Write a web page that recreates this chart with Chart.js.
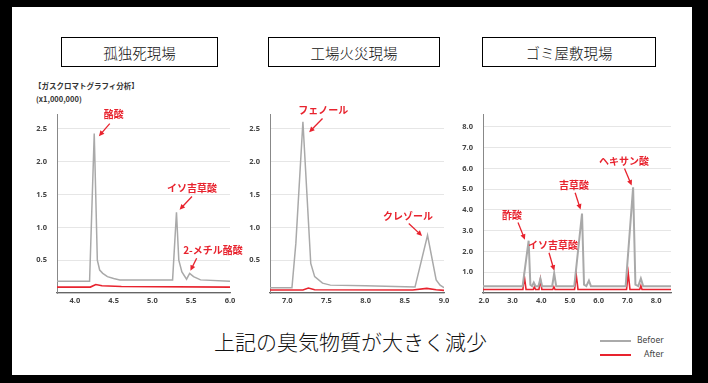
<!DOCTYPE html>
<html>
<head>
<meta charset="utf-8">
<script src="https://cdn.jsdelivr.net/npm/chart.js@4.4.1/dist/chart.umd.min.js"></script>
<style>
  html, body { margin: 0; padding: 0; background: #000; }
  #frame { position: relative; width: 708px; height: 383px; background: #000; overflow: hidden; }
  #sheet { position: absolute; left: 12px; top: 7px; width: 680px; height: 368px; background: #fff; }
  .title {
    position: absolute; top: 37px; height: 28px; border: 1px solid #000;
    font: 300 14.5px "Noto Sans CJK JP", sans-serif; color: #111;
    display: flex; align-items: center; justify-content: center;
  }
  .chart { position: absolute; top: 100px; height: 210px; }
  .note { position: absolute; font: bold 7.5px "Noto Sans CJK JP", sans-serif; color: #333; white-space: nowrap; }
  #caption { position: absolute; left: 214px; top: 326px; font: 300 21px "Noto Sans CJK JP", sans-serif; color: #111; white-space: nowrap; }
  .key { position: absolute; height: 1.5px; width: 31px; left: 600px; }
  .keytext { position: absolute; font: 8.5px "Noto Sans", sans-serif; color: #444; }
</style>
</head>
<body>
<div id="frame">
  <div id="sheet"></div>
  <div class="title" style="left:61px; width:155px;">孤独死現場</div>
  <div class="title" style="left:268px; width:170px;">工場火災現場</div>
  <div class="title" style="left:482px; width:172px;">ゴミ屋敷現場</div>
  <div class="note" style="left:34px; top:80px;">【ガスクロマトグラフィ分析】</div>
  <div class="note" style="left:36px; top:93px;">(x1,000,000)</div>
  <canvas id="lonelyChart" class="chart" style="left:20px; width:225px;"></canvas>
  <canvas id="fireChart" class="chart" style="left:233px; width:226px;"></canvas>
  <canvas id="trashChart" class="chart" style="left:446px; width:240px;"></canvas>
  <div id="caption">上記の臭気物質が大きく減少</div>
  <div class="key" style="top:340px; background:#aaa;"></div>
  <div class="key" style="top:354px; background:#e8232e;"></div>
  <div class="keytext" style="left:637px; top:334px;">Befoer</div>
  <div class="keytext" style="left:644px; top:348px;">After</div>
</div>

<script>
// 孤独死現場
const lonelyBeforeX = [3.77, 4.19, 4.25, 4.29, 4.32, 4.36, 4.42, 4.5, 4.58, 5.0, 5.26, 5.31, 5.34, 5.38, 5.44, 5.48, 5.53, 5.62, 6.0];
const lonelyBeforeY = [0.18, 0.18, 2.43, 0.5, 0.35, 0.3, 0.25, 0.22, 0.2, 0.2, 0.2, 1.23, 0.5, 0.32, 0.21, 0.3, 0.25, 0.2, 0.18];
const lonelyAfterX = [3.77, 4.2, 4.27, 4.35, 4.6, 6.0];
const lonelyAfterY = [0.09, 0.09, 0.13, 0.11, 0.1, 0.09];

// 工場火災現場
const fireBeforeX = [6.78, 7.06, 7.11, 7.2, 7.3, 7.35, 7.45, 7.55, 8.0, 8.63, 8.79, 8.9, 8.95, 9.0];
const fireBeforeY = [0.08, 0.08, 0.76, 2.61, 0.45, 0.25, 0.15, 0.12, 0.11, 0.09, 0.88, 0.2, 0.12, 0.08];
const fireAfterX = [6.78, 7.2, 7.27, 7.35, 8.6, 8.78, 8.9, 9.0];
const fireAfterY = [0.045, 0.045, 0.075, 0.05, 0.045, 0.07, 0.05, 0.04];

// ゴミ屋敷現場
const trashBeforeX = [1.97, 3.35, 3.56, 3.62, 3.68, 3.74, 3.8, 3.9, 3.97, 4.03, 4.38, 4.45, 4.52, 5.15, 5.42, 5.49, 5.57, 5.66, 5.73, 6.94, 7.2, 7.28, 7.38, 7.47, 7.55, 8.52];
const trashBeforeY = [0.33, 0.33, 2.52, 0.4, 0.33, 0.5, 0.33, 0.33, 0.69, 0.33, 0.33, 0.95, 0.33, 0.33, 3.83, 0.4, 0.33, 0.6, 0.33, 0.33, 5.09, 0.4, 0.33, 0.7, 0.33, 0.33];
const trashAfterX = [1.97, 3.36, 3.41, 3.47, 3.72, 3.76, 3.8, 3.92, 3.97, 4.02, 4.4, 4.44, 4.48, 5.16, 5.22, 5.28, 6.97, 7.03, 7.09, 7.43, 7.47, 7.51, 8.52];
const trashAfterY = [0.17, 0.17, 0.8, 0.17, 0.17, 0.3, 0.17, 0.17, 0.65, 0.17, 0.17, 0.3, 0.17, 0.17, 0.85, 0.17, 0.17, 0.95, 0.17, 0.17, 0.35, 0.17, 0.17];

// peak names
const lonelyPeaks = ['酪酸', 'イソ吉草酸', '2-メチル酪酸'];
const firePeaks = ['フェノール', 'クレゾール'];
const trashPeaks = ['酢酸', 'イソ吉草酸', '吉草酸', 'ヘキサン酸'];

// where each peak name sits, in axis units: label x/y, arrow start, arrow end
const lonelyNotePos = [[4.5, 2.72, 4.45, 2.58, 4.31, 2.39], [5.51, 1.59, 5.51, 1.47, 5.35, 1.27], [5.78, 0.65, 5.57, 0.53, 5.49, 0.34]];
const fireNotePos = [[7.46, 2.79, 7.45, 2.66, 7.28, 2.45], [8.54, 1.17, 8.55, 1.06, 8.72, 0.87]];
const trashNotePos = [[2.98, 3.74, 3.19, 3.4, 3.43, 2.57], [4.41, 2.28, 4.27, 1.94, 4.45, 1.08], [5.14, 5.18, 5.18, 4.83, 5.37, 4.02], [6.88, 6.37, 6.9, 6.0, 7.15, 5.18]];

const BEFORE = '#a9a9a9';
const AFTER = '#e8232e';

function toPoints(xs, ys) {
    return xs.map((x, i) => ({ x: x, y: ys[i] }));
}

// draws red peak names with arrows
const peakNotes = {
    id: 'peakNotes',
    afterDatasetsDraw(chart, args, opts) {
        const ctx = chart.ctx;
        const sx = chart.scales.x, sy = chart.scales.y;
        ctx.save();
        ctx.fillStyle = AFTER;
        ctx.strokeStyle = AFTER;
        ctx.lineWidth = 1.3;
        ctx.font = 'bold 10px "Noto Sans CJK JP", sans-serif';
        ctx.textAlign = 'center';
        ctx.textBaseline = 'middle';
        opts.names.forEach((name, i) => {
            const p = opts.pos[i];
            ctx.fillText(name, sx.getPixelForValue(p[0]), sy.getPixelForValue(p[1]));
            const x1 = sx.getPixelForValue(p[2]), y1 = sy.getPixelForValue(p[3]);
            const x2 = sx.getPixelForValue(p[4]), y2 = sy.getPixelForValue(p[5]);
            const a = Math.atan2(y2 - y1, x2 - x1);
            ctx.beginPath();
            ctx.moveTo(x1, y1);
            ctx.lineTo(x2 - 3 * Math.cos(a), y2 - 3 * Math.sin(a));
            ctx.stroke();
            ctx.beginPath();
            ctx.moveTo(x2, y2);
            ctx.lineTo(x2 - 6 * Math.cos(a - 0.45), y2 - 6 * Math.sin(a - 0.45));
            ctx.lineTo(x2 - 6 * Math.cos(a + 0.45), y2 - 6 * Math.sin(a + 0.45));
            ctx.closePath();
            ctx.fill();
        });
        ctx.restore();
    }
};

function makeChart(id, cfg) {
    const ctx = document.getElementById(id).getContext('2d');
    return new Chart(ctx, {
        type: 'line',
        data: {
            datasets: [{
                label: 'Befoer',
                data: toPoints(cfg.bx, cfg.by),
                borderColor: BEFORE,
                borderWidth: cfg.lw,
                pointRadius: 0,
                tension: 0
            }, {
                label: 'After',
                data: toPoints(cfg.ax, cfg.ay),
                borderColor: AFTER,
                borderWidth: 1.6,
                pointRadius: 0,
                tension: 0
            }]
        },
        options: {
            responsive: false,
            animation: false,
            layout: { padding: { left: 0, right: cfg.right, top: 9, bottom: 0 } },
            plugins: {
                legend: { display: false },
                tooltip: { enabled: false },
                peakNotes: { names: cfg.names, pos: cfg.pos }
            },
            scales: {
                x: {
                    type: 'linear',
                    min: cfg.xmin,
                    max: cfg.xmax,
                    grid: { display: false, drawTicks: false },
                    border: { display: true, color: '#666', width: 1.2 },
                    afterFit: (s) => { s.height = 17; },
                    ticks: {
                        stepSize: cfg.xstep,
                        includeBounds: false,
                        padding: 3,
                        color: '#444',
                        font: { family: 'Noto Sans', size: 7.5, weight: 'bold' },
                        callback: (v) => Number(v).toFixed(1)
                    }
                },
                y: {
                    min: 0,
                    max: cfg.ymax,
                    grid: { color: '#e6e6e6', drawTicks: false },
                    border: { display: true, color: '#888', width: 1 },
                    afterFit: (s) => { s.width = 37; },
                    ticks: {
                        stepSize: cfg.ystep,
                        includeBounds: false,
                        padding: 10,
                        color: '#444',
                        font: { family: 'Noto Sans', size: 7.5, weight: 'bold' },
                        callback: (v) => v === 0 ? '' : Number(v).toFixed(1)
                    }
                }
            }
        },
        plugins: [peakNotes]
    });
}

document.querySelectorAll('canvas.chart').forEach((c) => {
    c.width = parseInt(c.style.width);
    c.height = 210;
});

makeChart('lonelyChart', {
    bx: lonelyBeforeX, by: lonelyBeforeY, ax: lonelyAfterX, ay: lonelyAfterY,
    names: lonelyPeaks, pos: lonelyNotePos,
    xmin: 3.77, xmax: 6.0, xstep: 0.5, ymax: 2.72, ystep: 0.5, lw: 1.5, right: 15
});
makeChart('fireChart', {
    bx: fireBeforeX, by: fireBeforeY, ax: fireAfterX, ay: fireAfterY,
    names: firePeaks, pos: fireNotePos,
    xmin: 6.78, xmax: 9.0, xstep: 0.5, ymax: 2.72, ystep: 0.5, lw: 1.5, right: 15
});
makeChart('trashChart', {
    bx: trashBeforeX, by: trashBeforeY, ax: trashAfterX, ay: trashAfterY,
    names: trashPeaks, pos: trashNotePos,
    xmin: 1.97, xmax: 8.52, xstep: 1, ymax: 8.6, ystep: 1, lw: 2, right: 15
});
</script>
</body>
</html>
